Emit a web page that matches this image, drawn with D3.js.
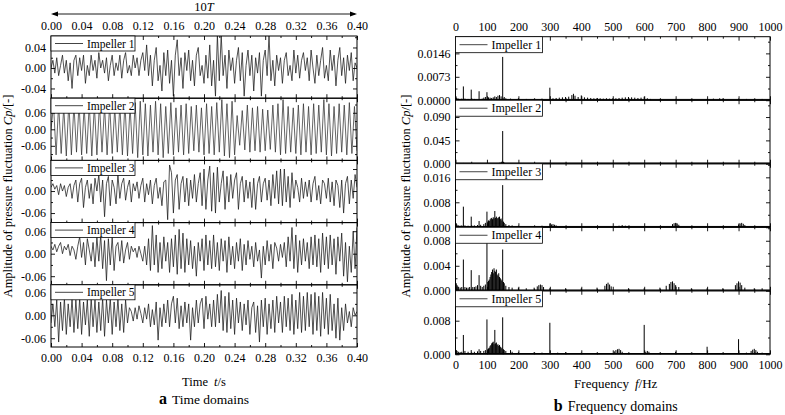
<!DOCTYPE html>
<html><head><meta charset="utf-8">
<script src="https://cdn.jsdelivr.net/npm/d3@7"></script>
<style>
body{margin:0;background:#fff}
svg{display:block}
text{font-family:"Liberation Serif","Times New Roman",Times,serif;fill:#000}
</style>
</head><body>
<svg id="c" width="785" height="415"></svg>
<script>
// ---------------- DATA ----------------
const impellerNames = ["Impeller 1","Impeller 2","Impeller 3","Impeller 4","Impeller 5"];
const timeTicks = [0,0.04,0.08,0.12,0.16,0.20,0.24,0.28,0.32,0.36,0.40];
const timeMinor = [0.02,0.06,0.10,0.14,0.18,0.22,0.26,0.30,0.34,0.38];
const freqTicks = [0,100,200,300,400,500,600,700,800,900,1000];
const freqMinor = [50,150,250,350,450,550,650,750,850,950];
const leftYTicks = [[0.04,0,-0.04],[0.06,0,-0.06],[0.06,0,-0.06],[0.06,0,-0.06],[0.06,0,-0.06]];
const leftYMinor = [[0.06,0.02,-0.02,-0.06],[0.09,0.03,-0.03,-0.09],[0.03,-0.03],[0.03,-0.03],[0.03,-0.03]];
const rightYTicks = [[0.0146,0.0073,0],[0.090,0.045,0],[0.016,0.008,0],[0.008,0.004,0],[0.008,0]];
const rightYMinor = [[0.00365,0.01095,0.01825],[0.0225,0.0675,0.1125],[0.004,0.012,0.020],[0.002,0.006,0.010],[0.004,0.012]];

// time-domain signals, sampled evenly over 0..0.40 s
const imp1 = [0.0,0.015,-0.01,0.02,-0.015,0.005,0.025,-0.01,0.015,
 -0.025,0.01,-0.04,0.015,0.025,-0.015,0.02,-0.005,0.025,-0.03,0.005,-0.015,
 0.025,-0.005,0.015,-0.02,0.03,0.0,0.015,-0.01,0.02,-0.025,0.005,0.025,
 -0.015,0.01,-0.005,0.025,-0.02,0.015,0.03,-0.01,0.005,-0.015,0.025,0.0,0.02,-0.015,0.015,0.03,
 -0.005,0.045,-0.015,0.025,-0.035,0.015,0.04,-0.025,0.005,-0.045,0.03,-0.015,0.035,-0.03,0.015,-0.055,
 0.025,0.055,-0.015,0.02,-0.04,0.03,-0.005,0.035,-0.025,0.015,-0.035,0.025,0.04,-0.015,0.005,-0.03,
 0.025,-0.02,0.045,-0.035,0.015,-0.055,0.064,-0.025,0.064,-0.015,0.025,-0.04,0.035,-0.005,0.02,-0.03,
 0.015,0.04,-0.025,0.03,-0.055,0.005,0.035,-0.015,0.025,-0.045,0.02,-0.01,0.03,-0.055,0.015,0.035,
 -0.015,0.064,-0.025,0.015,-0.035,0.025,-0.005,0.02,-0.03,0.015,0.03,-0.015,0.005,-0.025,0.035,-0.01,
 0.025,-0.02,0.015,0.03,-0.005,0.02,-0.025,0.035,0.0,-0.03,0.025,-0.015,0.015,0.04,-0.02,0.005,
 -0.025,0.035,-0.005,0.025,-0.035,0.015,0.04,-0.015,0.02,-0.03,0.025,-0.005,0.03,-0.025,0.01,0.0];

const imp2Peaks = [0.088,0.092,0.082,0.097,0.088,0.093,0.083,0.092,0.087,0.093,
 0.083,0.092,0.078,0.088,0.093,0.083,0.097,0.102,0.093,0.088,
 0.102,0.093,0.083,0.097,0.078,0.088,0.093,0.083,0.088,0.078,
 0.093,0.083,0.097,0.108,0.093,0.102,0.05,0.068,0.088,0.078,
 0.083,0.073,0.07,0.088,0.093,0.108,0.083,0.078,0.088,0.093,
 0.083,0.093,0.088,0.108,0.093,0.083,0.093,0.088,0.097,0.083];
const imp2Troughs = [-0.093,-0.088,-0.097,-0.093,-0.083,-0.093,-0.088,-0.097,-0.093,-0.083,
 -0.093,-0.088,-0.083,-0.093,-0.097,-0.088,-0.103,-0.093,-0.097,-0.083,
 -0.093,-0.103,-0.088,-0.093,-0.083,-0.093,-0.088,-0.078,-0.083,-0.093,
 -0.088,-0.093,-0.083,-0.097,-0.103,-0.093,-0.058,-0.075,-0.083,-0.078,
 -0.083,-0.078,-0.073,-0.083,-0.093,-0.088,-0.083,-0.088,-0.093,-0.083,
 -0.093,-0.088,-0.083,-0.093,-0.097,-0.088,-0.083,-0.093,-0.088,-0.078];

const imp3 = [0.01,0.02,0.005,0.015,-0.01,0.02,0.0,0.015,-0.015,0.01,0.02,-0.02,0.015,
 0.03,-0.03,0.02,0.035,-0.045,0.01,0.03,-0.02,0.02,-0.035,0.035,0.0,
 0.045,-0.03,0.03,-0.07,0.02,0.04,-0.04,0.03,0.01,-0.035,0.045,-0.02,
 0.02,0.035,-0.025,0.01,0.03,-0.03,0.02,0.0,0.025,-0.02,0.015,0.035,
 -0.03,0.02,-0.01,0.03,-0.035,0.015,0.035,-0.02,0.01,-0.04,0.025,0.03,
 -0.078,0.071,0.05,-0.06,0.03,0.045,-0.05,0.02,0.04,-0.03,0.035,-0.04,
 0.03,-0.02,0.045,-0.03,0.02,0.05,-0.04,0.06,-0.05,0.03,0.068,-0.055,
 0.05,-0.06,0.065,-0.03,0.02,0.055,-0.05,0.04,-0.03,0.045,-0.02,0.03,
 0.05,-0.05,0.02,0.04,-0.03,0.03,-0.02,0.025,-0.045,0.035,-0.05,0.02,
 0.04,-0.03,0.02,0.035,-0.025,0.03,-0.04,0.045,-0.02,0.055,-0.035,0.06,
 -0.04,0.06,-0.03,0.04,-0.045,0.05,-0.02,0.03,0.01,-0.03,0.035,-0.02,
 0.025,-0.015,0.03,-0.03,0.02,0.04,-0.025,0.015,-0.035,0.03,0.02,-0.02,
 0.035,-0.03,0.025,-0.04,0.03,0.015,-0.045,0.03,-0.06,0.02,0.04,-0.035,0.03,-0.02,0.045,0.01];

const imp4 = [0.02,0.01,0.025,0.005,0.02,0.03,0.0,0.02,0.01,0.025,-0.005,0.02,0.01,
 -0.015,0.02,0.045,-0.01,0.03,-0.03,0.04,0.01,-0.02,0.03,-0.035,0.045,
 -0.02,0.05,-0.04,0.035,-0.072,0.04,-0.03,0.045,-0.045,0.02,0.03,-0.02,
 0.035,-0.025,0.01,0.03,-0.015,0.02,0.005,0.015,-0.01,0.02,0.0,-0.02,
 0.02,-0.03,0.04,-0.045,0.075,-0.03,0.05,-0.05,0.03,-0.04,0.045,-0.02,
 0.03,-0.05,0.04,-0.035,0.05,-0.055,0.065,-0.04,0.055,-0.05,0.04,-0.03,
 0.035,-0.04,0.02,-0.06,0.03,-0.02,0.04,-0.045,0.05,-0.03,0.035,-0.04,
 0.05,-0.035,0.03,-0.045,0.04,-0.02,0.035,-0.05,0.045,-0.03,0.02,-0.04,
 0.03,-0.02,0.04,-0.045,0.025,-0.03,0.035,-0.015,0.02,-0.035,0.03,-0.02,
 0.01,-0.065,0.02,-0.03,0.035,-0.02,0.025,-0.04,0.03,0.015,-0.02,0.025,
 -0.01,0.03,-0.035,0.045,-0.02,0.07,-0.04,0.05,-0.05,0.035,-0.03,0.04,
 -0.02,0.03,-0.04,0.045,-0.03,0.05,-0.035,0.04,-0.05,0.055,-0.03,0.045,
 -0.04,0.05,-0.03,0.04,-0.055,0.045,-0.02,0.055,-0.06,0.03,-0.075,0.02,-0.05,0.06,-0.04,0.07];

const imp5 = [-0.02,0.03,-0.03,0.04,-0.07,0.035,-0.04,0.045,-0.05,0.03,-0.03,0.045,-0.045,
 0.04,-0.035,0.045,-0.05,0.035,-0.025,0.04,-0.055,0.045,-0.03,0.04,-0.045,
 0.035,-0.04,0.045,-0.055,0.04,-0.02,0.045,-0.05,0.035,-0.03,0.045,-0.04,
 0.03,-0.045,0.04,-0.02,0.02,0.01,-0.015,0.02,-0.01,0.025,0.005,-0.02,
 0.02,-0.01,0.03,-0.03,0.015,-0.025,0.035,-0.065,0.02,-0.03,0.03,-0.02,
 0.04,-0.03,0.03,0.05,-0.02,0.045,-0.035,0.025,-0.03,0.035,-0.02,0.03,
 -0.065,0.02,-0.03,0.04,-0.02,0.03,0.045,-0.035,0.05,-0.01,0.03,-0.03,
 0.04,-0.03,0.055,-0.02,0.065,-0.04,0.05,-0.045,0.06,-0.035,0.04,-0.05,
 0.045,-0.02,0.035,-0.04,0.03,-0.025,0.04,-0.05,0.02,0.035,-0.045,0.025,
 -0.07,0.04,-0.03,0.045,-0.05,0.03,-0.035,0.04,-0.045,0.05,-0.02,0.035,
 -0.045,0.05,-0.03,0.045,-0.04,0.055,-0.05,0.04,-0.035,0.06,-0.045,0.05,
 -0.04,0.06,-0.03,0.055,-0.05,0.06,-0.04,0.05,-0.055,0.06,-0.035,0.045,
 -0.05,0.055,-0.04,0.03,-0.06,0.045,-0.065,0.02,-0.04,0.03,-0.02,0.01,-0.03,0.02,0.0,0.01];

// frequency-domain amplitudes: [frequency Hz, amplitude]
const spec1 = [[2.5,0.0008],[5,0.0006],[10,0.0005],[15,0.0004],[20,0.0005],[25,0.0043],[30,0.0005],[40,0.0004],[50,0.0033],[60,0.0004],[75,0.0028],[85,0.0005],[90,0.0008],[95,0.0010],[100,0.0025],[105,0.0009],[110,0.0008],[115,0.0007],[120,0.0009],[125,0.0012],[130,0.0010],[135,0.0014],[140,0.0016],[145,0.0012],[150,0.0135],[155,0.0010],[160,0.0006],[175,0.0005],[200,0.0006],[225,0.0004],[250,0.0004],[275,0.0005],[300,0.0039],[310,0.0006],[320,0.0007],[330,0.0008],[340,0.0009],[350,0.0010],[360,0.0011],[370,0.0016],[375,0.0020],[380,0.0014],[390,0.0010],[400,0.0015],[410,0.0009],[420,0.0008],[430,0.0007],[440,0.0006],[450,0.0007],[460,0.0006],[470,0.0005],[480,0.0006],[490,0.0005],[500,0.0006],[510,0.0006],[520,0.0007],[530,0.0008],[540,0.0009],[550,0.0010],[560,0.0009],[570,0.0008],[580,0.0007],[590,0.0008],[600,0.0011],[610,0.0006],[620,0.0004],[650,0.0004],[700,0.0004],[750,0.0004],[800,0.0004],[820,0.0005],[840,0.0006],[850,0.0005],[900,0.0005],[925,0.0004],[950,0.0004],[975,0.0004]];
const spec2 = [[2.5,0.0012],[25,0.0015],[50,0.0012],[75,0.0010],[100,0.0014],[120,0.0010],[130,0.0012],[140,0.0018],[145,0.0030],[147.5,0.0040],[150,0.063],[152.5,0.0030],[155,0.0020],[160,0.0012],[200,0.0006],[300,0.0008],[450,0.0004],[600,0.0005],[750,0.0004],[900,0.0004]];
const spec3 = [[2.5,0.0012],[5,0.0008],[10,0.0006],[15,0.0005],[20,0.0006],[25,0.0066],[30,0.0006],[40,0.0005],[50,0.0034],[60,0.0006],[70,0.0007],[75,0.0020],[80,0.0008],[90,0.0010],[95,0.0014],[100,0.0050],[102.5,0.0018],[105,0.0022],[107.5,0.0020],[110,0.0025],[112.5,0.0028],[115,0.0030],[117.5,0.0026],[120,0.0032],[122.5,0.0028],[125,0.0052],[127.5,0.0030],[130,0.0034],[132.5,0.0028],[135,0.0030],[137.5,0.0032],[140,0.0034],[142.5,0.0026],[145,0.0028],[147.5,0.0022],[150,0.0135],[152.5,0.0018],[155,0.0014],[160,0.0010],[170,0.0007],[180,0.0006],[200,0.0005],[250,0.0004],[275,0.0005],[300,0.0012],[305,0.0009],[310,0.0010],[315,0.0008],[320,0.0006],[400,0.0004],[450,0.0004],[520,0.0005],[530,0.0007],[540,0.0005],[600,0.0004],[650,0.0004],[690,0.0010],[695,0.0013],[700,0.0014],[705,0.0012],[710,0.0008],[750,0.0004],[800,0.0004],[850,0.0004],[900,0.0009],[905,0.0012],[910,0.0014],[915,0.0011],[920,0.0007],[950,0.0004],[975,0.0004]];
const spec4 = [[2.5,0.0012],[5,0.0009],[7.5,0.0007],[10,0.0006],[15,0.0005],[20,0.0006],[25,0.0050],[30,0.0006],[35,0.0005],[40,0.0005],[45,0.0006],[50,0.0033],[55,0.0006],[60,0.0006],[65,0.0007],[70,0.0009],[75,0.0025],[80,0.0008],[85,0.0006],[90,0.0008],[95,0.0010],[100,0.0076],[102.5,0.0014],[105,0.0016],[107.5,0.0018],[110,0.0022],[112.5,0.0026],[115,0.0030],[117.5,0.0034],[120,0.0028],[122.5,0.0036],[125,0.0032],[127.5,0.0030],[130,0.0034],[132.5,0.0026],[135,0.0024],[137.5,0.0028],[140,0.0022],[142.5,0.0020],[145,0.0018],[147.5,0.0016],[150,0.0066],[152.5,0.0014],[155,0.0012],[160,0.0008],[170,0.0006],[180,0.0005],[200,0.0005],[225,0.0004],[250,0.0005],[260,0.0007],[265,0.0009],[270,0.0010],[275,0.0009],[280,0.0006],[300,0.0004],[350,0.0004],[400,0.0004],[450,0.0005],[475,0.0008],[480,0.0011],[485,0.0013],[490,0.0010],[495,0.0007],[550,0.0004],[600,0.0004],[650,0.0005],[670,0.0008],[680,0.0011],[685,0.0014],[690,0.0015],[695,0.0012],[700,0.0009],[710,0.0006],[750,0.0004],[800,0.0004],[850,0.0004],[890,0.0009],[895,0.0012],[900,0.0015],[905,0.0013],[910,0.0009],[920,0.0005],[950,0.0004],[975,0.0004]];
const spec5 = [[2.5,0.0010],[5,0.0008],[10,0.0006],[15,0.0005],[20,0.0006],[25,0.0046],[30,0.0008],[40,0.0006],[50,0.0010],[60,0.0006],[70,0.0007],[75,0.0012],[80,0.0008],[90,0.0008],[95,0.0010],[100,0.0083],[102.5,0.0012],[105,0.0014],[107.5,0.0016],[110,0.0020],[112.5,0.0022],[115,0.0026],[117.5,0.0028],[120,0.0030],[122.5,0.0024],[125,0.0058],[127.5,0.0026],[130,0.0028],[132.5,0.0022],[135,0.0024],[137.5,0.0020],[140,0.0022],[142.5,0.0018],[145,0.0016],[147.5,0.0014],[150,0.0088],[152.5,0.0012],[155,0.0010],[160,0.0008],[175,0.0010],[180,0.0006],[200,0.0005],[250,0.0005],[275,0.0004],[300,0.0075],[325,0.0004],[350,0.0005],[400,0.0004],[450,0.0004],[505,0.0007],[510,0.0010],[515,0.0012],[520,0.0013],[525,0.0010],[530,0.0006],[550,0.0004],[600,0.0070],[605,0.0006],[610,0.0008],[615,0.0006],[650,0.0004],[700,0.0006],[750,0.0004],[800,0.0018],[850,0.0004],[900,0.0036],[925,0.0004],[940,0.0008],[945,0.0011],[950,0.0013],[955,0.0010],[960,0.0006],[975,0.0004]];

// ---------------- CHART ----------------
const FONT = '"Liberation Serif","Times New Roman",Times,serif';
const svg = d3.select("#c");
const loc = d3.formatLocale({decimal:".",thousands:",",grouping:[3],currency:["",""],minus:"-"});
const fmt2 = loc.format(".2f"), fmt3 = loc.format(".3f"), fmt4 = loc.format(".4f");

const L = {x0:51, x1:357, top:36, bottom:347};
const R = {x0:455.5, x1:770, top:36.7, bottom:354.3};
const leftDomains = [[-0.059,0.0624],[-0.113,0.113],[-0.086,0.0835],[-0.083,0.083],[-0.083,0.080]];
const rightDomains = [[0,0.0198],[0,0.1224],[0,0.02035],[0,0.01016],[0,0.01512]];
const rightFmt = [fmt4, fmt3, fmt3, fmt3, fmt3];

const xT = d3.scaleLinear().domain([0,0.4]).range([L.x0, L.x1]);
const xF = d3.scaleLinear().domain([0,1000]).range([R.x0, R.x1]);

const timeSeries = [
  imp1.map((v,j)=>({t:j*0.4/(imp1.length-1), v})),
  (function(){ const vals=[0]; imp2Peaks.forEach((p,k)=>{vals.push(p); vals.push(imp2Troughs[k]);});
    return vals.map((v,j)=>({t:j*0.4/(vals.length-1), v})); })(),
  imp3.map((v,j)=>({t:j*0.4/(imp3.length-1), v})),
  imp4.map((v,j)=>({t:j*0.4/(imp4.length-1), v})),
  imp5.map((v,j)=>({t:j*0.4/(imp5.length-1), v}))
];
const spectra = [spec1, spec2, spec3, spec4, spec5];

function bounds(B,i){ const h=(B.bottom-B.top)/5; return [B.top+i*h, B.top+(i+1)*h]; }

function styleAxis(g, fs){
  g.select(".domain").remove();
  g.attr("font-family", FONT).attr("font-size", fs);
  g.selectAll("line").attr("stroke","#000").attr("stroke-width",0.9);
}

function drawPanel(B, i, x, y, xTicks, xMinor, xFmt, yTicks, yMinor, yFmt, isFirst, isLast, legendW, legendH, legendFs, drawMarks){
  const [py0, py1] = bounds(B, i);
  const g = svg.append("g");
  const cid = "clip"+(B===L?"L":"R")+i;
  svg.append("clipPath").attr("id",cid).append("rect")
    .attr("x",B.x0).attr("y",py0).attr("width",B.x1-B.x0).attr("height",py1-py0);
  const mg = g.append("g").attr("clip-path","url(#"+cid+")");
  drawMarks(mg, y);

  const dom = y.domain();
  const inDom = v => v>=Math.min(dom[0],dom[1])-1e-9 && v<=Math.max(dom[0],dom[1])+1e-9;

  const gb = g.append("g").attr("transform",`translate(0,${py1})`)
    .call(d3.axisBottom(x).tickValues(xTicks).tickSize(-4).tickPadding(6).tickFormat(isLast? xFmt : ""));
  styleAxis(gb, 12);
  const gbm = g.append("g").attr("transform",`translate(0,${py1})`)
    .call(d3.axisBottom(x).tickValues(xMinor).tickSize(-2).tickFormat(""));
  styleAxis(gbm, 12);
  const gt = g.append("g").attr("transform",`translate(0,${py0})`)
    .call(d3.axisTop(x).tickValues(xTicks).tickSize(-4).tickPadding(6).tickFormat(isFirst? xFmt : ""));
  styleAxis(gt, 12);
  const gtm = g.append("g").attr("transform",`translate(0,${py0})`)
    .call(d3.axisTop(x).tickValues(xMinor).tickSize(-2).tickFormat(""));
  styleAxis(gtm, 12);

  const gl = g.append("g").attr("transform",`translate(${B.x0},0)`)
    .call(d3.axisLeft(y).tickValues(yTicks.filter(inDom)).tickSize(-4).tickPadding(5).tickFormat(yFmt));
  styleAxis(gl, 12);
  const glm = g.append("g").attr("transform",`translate(${B.x0},0)`)
    .call(d3.axisLeft(y).tickValues(yMinor.filter(inDom)).tickSize(-2).tickFormat(""));
  styleAxis(glm, 12);
  const gr = g.append("g").attr("transform",`translate(${B.x1},0)`)
    .call(d3.axisRight(y).tickValues(yTicks.filter(inDom)).tickSize(-4).tickFormat(""));
  styleAxis(gr, 12);
  const grm = g.append("g").attr("transform",`translate(${B.x1},0)`)
    .call(d3.axisRight(y).tickValues(yMinor.filter(inDom)).tickSize(-2).tickFormat(""));
  styleAxis(grm, 12);

  g.append("rect").attr("x",B.x0).attr("y",py0).attr("width",B.x1-B.x0).attr("height",py1-py0)
    .attr("fill","none").attr("stroke","#000").attr("stroke-width",1);

  const lg = g.append("g");
  lg.append("rect").attr("x",B.x0).attr("y",py0).attr("width",legendW).attr("height",legendH)
    .attr("fill","#fff").attr("stroke","#000").attr("stroke-width",0.8);
  lg.append("line").attr("x1",B.x0+4).attr("x2",B.x0+32).attr("y1",py0+legendH/2).attr("y2",py0+legendH/2)
    .attr("stroke","#444").attr("stroke-width",1);
  lg.append("text").attr("x",B.x0+36).attr("y",py0+legendH/2+4).attr("font-size",legendFs)
    .text(impellerNames[i]);
}

// LEFT: time domains
timeSeries.forEach((series,i)=>{
  const [py0,py1] = bounds(L,i);
  const y = d3.scaleLinear().domain(leftDomains[i]).range([py1,py0]);
  drawPanel(L, i, xT, y, timeTicks, timeMinor, fmt2, leftYTicks[i], leftYMinor[i], fmt2,
    i===0, i===4, 84, 15, 11.5, (mg, ys)=>{
      mg.append("path").datum(series)
        .attr("d", d3.line().x(d=>xT(d.t)).y(d=>ys(d.v)))
        .attr("fill","none").attr("stroke", i===1 ? "#333" : "#1a1a1a").attr("stroke-width",0.75).attr("stroke-linejoin","round");
    });
});

// RIGHT: frequency domains
spectra.forEach((spec,i)=>{
  const [py0,py1] = bounds(R,i);
  const y = d3.scaleLinear().domain(rightDomains[i]).range([py1,py0]);
  drawPanel(R, i, xF, y, freqTicks, freqMinor, d3.format("d"), rightYTicks[i], rightYMinor[i], rightFmt[i],
    i===0, i===4, 87, 16, 12, (mg, ys)=>{
      mg.selectAll("line.stick").data(spec).enter().append("line").attr("class","stick")
        .attr("x1",d=>xF(d[0])).attr("x2",d=>xF(d[0]))
        .attr("y1",ys(0)).attr("y2",d=>ys(d[1]))
        .attr("stroke","#000").attr("stroke-width",1);
      mg.append("line").attr("x1",R.x0).attr("x2",R.x1).attr("y1",ys(0)-0.8).attr("y2",ys(0)-0.8)
        .attr("stroke","#000").attr("stroke-width",1);
    });
});

// Top arrow "10T"
const ay = 14;
const ax0 = xT(0), ax1 = xT(0.4);
svg.append("line").attr("x1",ax0+2).attr("x2",ax1-2).attr("y1",ay).attr("y2",ay).attr("stroke","#000").attr("stroke-width",0.9);
svg.append("path").attr("d",`M${ax0},${ay}L${ax0+7},${ay-2.5}L${ax0+7},${ay+2.5}Z`).attr("fill","#000");
svg.append("path").attr("d",`M${ax1},${ay}L${ax1-7},${ay-2.5}L${ax1-7},${ay+2.5}Z`).attr("fill","#000");
const t10 = svg.append("text").attr("x",(ax0+ax1)/2).attr("y",11).attr("text-anchor","middle").attr("font-size",12.5);
t10.append("tspan").text("10");
t10.append("tspan").attr("font-style","italic").text("T");

function yTitle(xpos){
  const t = svg.append("text").attr("transform",`translate(${xpos},196) rotate(-90)`)
    .attr("text-anchor","middle").attr("font-size",12.5);
  t.append("tspan").text("Amplitude of pressure fluctuation ");
  t.append("tspan").attr("font-style","italic").text("Cp");
  t.append("tspan").text("/[-]");
}
yTitle(12);
yTitle(409.5);

const tx = svg.append("text").attr("x",(L.x0+L.x1)/2).attr("y",386).attr("text-anchor","middle").attr("font-size",12.5);
tx.append("tspan").text("Time");
tx.append("tspan").attr("dx",6).attr("font-style","italic").text("t");
tx.append("tspan").text("/s");

const fx = svg.append("text").attr("x",(R.x0+R.x1)/2+3).attr("y",388).attr("text-anchor","middle").attr("font-size",13);
fx.append("tspan").text("Frequency");
fx.append("tspan").attr("dx",6).attr("font-style","italic").text("f");
fx.append("tspan").text("/Hz");

const ca = svg.append("text").attr("x",(L.x0+L.x1)/2).attr("y",404).attr("text-anchor","middle").attr("font-size",13.5);
ca.append("tspan").attr("font-weight","bold").attr("font-size",16).text("a");
ca.append("tspan").attr("dx",5).text("Time domains");

const cb = svg.append("text").attr("x",(R.x0+R.x1)/2+3).attr("y",411).attr("text-anchor","middle").attr("font-size",14);
cb.append("tspan").attr("font-weight","bold").attr("font-size",16).text("b");
cb.append("tspan").attr("dx",5).text("Frequency domains");
</script>
</body></html>
